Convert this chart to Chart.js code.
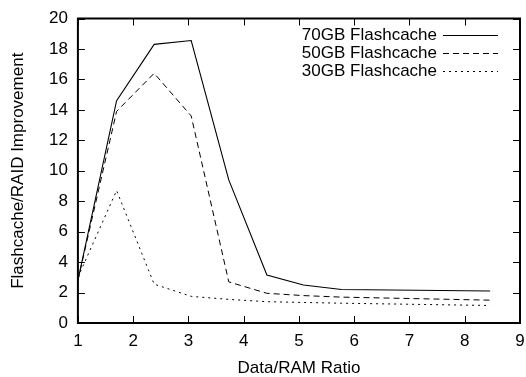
<!DOCTYPE html>
<html>
<head>
<meta charset="utf-8">
<script src="https://cdn.jsdelivr.net/npm/chart.js@4"></script>
<style>
  body { margin: 0; background: #fff; }
</style>
</head>
<body>
<canvas id="chart" width="526" height="377"></canvas>
<script>
// values
const ratio = [1, 1.7, 2.38, 3.05, 3.73, 4.42, 5.08, 5.77, 8.46];
const flash70 = [2.8, 14.6, 18.3, 18.55, 9.4, 3.15, 2.5, 2.2, 2.1];
const flash50 = [2.8, 13.9, 16.4, 13.6, 2.7, 1.95, 1.8, 1.7, 1.5];
const flash30 = [3.0, 8.7, 2.55, 1.75, 1.55, 1.4, 1.35, 1.3, 1.15];
const seriesNames = ["70GB Flashcache", "50GB Flashcache", "30GB Flashcache"];

const FONT = "'Liberation Sans', Arial, Helvetica, sans-serif";

function points(ys) {
  return ratio.map((x, i) => ({ x: x, y: ys[i] }));
}

// gnuplot-like frame: border all round, inward ticks on all four sides, key at top right
const gnuplotFrame = {
  id: "gnuplotFrame",
  afterDatasetsDraw(chart) {
    const { ctx, chartArea: a, scales } = chart;
    const x = scales.x;
    const y = scales.y;
    ctx.save();
    ctx.strokeStyle = "#000";
    ctx.lineWidth = 1;
    ctx.beginPath();
    x.ticks.forEach((t) => {
      const px = Math.round(x.getPixelForValue(t.value)) + 0.5;
      ctx.moveTo(px, a.bottom);
      ctx.lineTo(px, a.bottom - 7);
      ctx.moveTo(px, a.top);
      ctx.lineTo(px, a.top + 7);
    });
    y.ticks.forEach((t) => {
      const py = Math.round(y.getPixelForValue(t.value)) + 0.5;
      ctx.moveTo(a.left, py);
      ctx.lineTo(a.left + 7, py);
      ctx.moveTo(a.right, py);
      ctx.lineTo(a.right - 7, py);
    });
    ctx.stroke();
    ctx.lineWidth = 2;
    ctx.strokeRect(a.left, a.top, a.right - a.left, a.bottom - a.top);

    // key
    ctx.font = "17px " + FONT;
    ctx.fillStyle = "#000";
    ctx.textAlign = "right";
    ctx.textBaseline = "middle";
    chart.data.datasets.forEach((ds, i) => {
      const ry = 35 + i * 18;
      ctx.fillText(ds.label, 437, ry);
      ctx.beginPath();
      ctx.lineWidth = 1;
      ctx.setLineDash(ds.borderDash || []);
      ctx.moveTo(443, ry + 0.5);
      ctx.lineTo(498, ry + 0.5);
      ctx.stroke();
      ctx.setLineDash([]);
    });
    ctx.restore();
  },
};

new Chart(document.getElementById("chart"), {
  type: "line",
  data: {
    datasets: [
      {
        label: seriesNames[0],
        data: points(flash70),
        borderColor: "#000",
        borderWidth: 1.1,
        pointRadius: 0,
        tension: 0,
      },
      {
        label: seriesNames[1],
        data: points(flash50),
        borderColor: "#000",
        borderWidth: 1,
        borderDash: [6, 4],
        pointRadius: 0,
        tension: 0,
      },
      {
        label: seriesNames[2],
        data: points(flash30),
        borderColor: "#000",
        borderWidth: 1,
        borderDash: [2, 4],
        pointRadius: 0,
        tension: 0,
      },
    ],
  },
  options: {
    responsive: false,
    animation: false,
    devicePixelRatio: 1,
    layout: {
      padding: { top: 9, right: 6, bottom: 0, left: 0 },
    },
    plugins: {
      legend: { display: false },
      tooltip: { enabled: false },
    },
    scales: {
      x: {
        type: "linear",
        min: 1,
        max: 9,
        grid: { display: false, drawTicks: false },
        border: { display: false },
        afterFit(scale) {
          scale.paddingRight = 0;
        },
        ticks: {
          stepSize: 1,
          padding: 10,
          color: "#000",
          font: { family: FONT, size: 17, lineHeight: 1 },
        },
        title: {
          display: true,
          text: "Data/RAM Ratio",
          color: "#000",
          font: { family: FONT, size: 17, lineHeight: 1 },
          padding: { top: 0, bottom: 0 },
        },
      },
      y: {
        min: 0,
        max: 20,
        grid: { display: false, drawTicks: false },
        border: { display: false },
        ticks: {
          stepSize: 2,
          autoSkip: false,
          padding: 10,
          color: "#000",
          font: { family: FONT, size: 17, lineHeight: 1 },
        },
        title: {
          display: true,
          text: "Flashcache/RAID Improvement",
          color: "#000",
          font: { family: FONT, size: 17, lineHeight: 1 },
          padding: { top: 10, bottom: 12 },
        },
      },
    },
  },
  plugins: [gnuplotFrame],
});
</script>
</body>
</html>
